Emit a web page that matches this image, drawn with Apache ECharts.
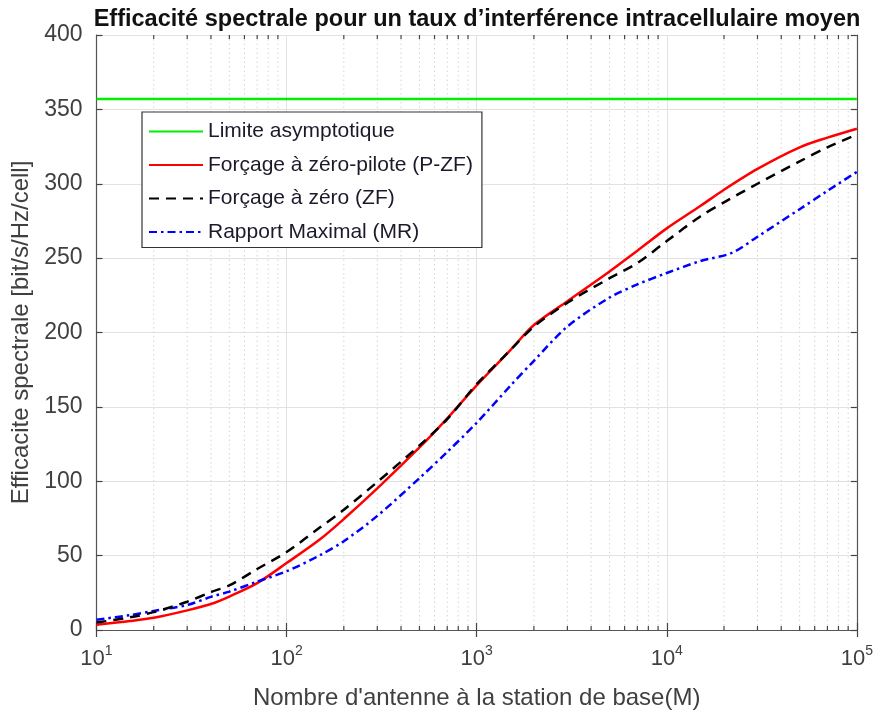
<!DOCTYPE html>
<html>
<head>
<meta charset="utf-8">
<script src="https://cdn.jsdelivr.net/npm/echarts@6/dist/echarts.min.js"></script>
<style>
html,body{margin:0;padding:0;background:#fff;}
#c{width:876px;height:715px;}
</style>
</head>
<body>
<div id="c"></div>
<script>
// Number of antennas (x, log scale)
const antennas = [10,15,20,30,40,50,70,100,150,200,300,500,700,1000,1500,2000,3000,5000,7000,10000,15000,20000,30000,50000,70000,100000];
// Spectral efficiency [bit/s/Hz/cell]
const pzf = [3.5,6,8.2,13.2,17.5,22.5,31.5,45,61,74.6,95.2,122.7,142.3,164.5,188,205,221,241,255,270,285,296,310,324.5,331,337];
const zf  = [5,8.5,12,19,25.5,30,41,52.4,69,80.8,99.5,124,141.8,165.3,188,204,220,236.5,246.7,261.5,278,287.5,300,315,324.5,333];
const antennasMR = [10,15,20,30,40,50,70,100,150,200,300,500,700,1000,1500,2000,3000,5000,7000,10000,15000,22000,30000,50000,70000,100000];
const mr  = [6.9,10,12.8,16.8,22.3,25.8,32.5,39.5,50.3,59.7,76.7,102.1,119.7,139.3,164,181,204,223.5,232.3,240,248,253.5,264.4,282.9,295.2,308];
const asymptote = 357;
const xRange = [10, 100000];
const minorX = [];
[10,100,1000,10000].forEach(d => { for (let k = 2; k <= 9; k++) minorX.push(d*k); });

const names = ['Limite asymptotique','Forçage à zéro-pilote (P-ZF)','Forçage à zéro (ZF)','Rapport Maximal (MR)'];
const FONT = 'Liberation Sans, Arial, sans-serif';
const tickColor = '#404040';

const chart = echarts.init(document.getElementById('c'), null, {renderer:'canvas'});

const commonX = {
  type:'log', logBase:10, min:xRange[0], max:xRange[1],
  axisLine:{show:true, lineStyle:{color:'#555', width:1.2}},
  axisTick:{show:true, inside:true, length:7, lineStyle:{color:'#444', width:1.2}},
  minorTick:{show:false}
};
const commonY = {
  type:'value', min:0, max:400, interval:50,
  axisLine:{show:true, lineStyle:{color:'#555', width:1.2}},
  axisTick:{show:true, inside:true, length:6, lineStyle:{color:'#444', width:1.2}}
};

const option = {
  backgroundColor:'#fff',
  animation:false,
  title:{
    text:'Efficacité spectrale pour un taux d\u2019interférence intracellulaire moyen',
    left:472, top:3, textAlign:'center',
    textStyle:{fontFamily:FONT, fontWeight:'bold', fontSize:23.5, color:'#111'}
  },
  grid:{left:96.5, right:17, top:35, bottom:79, containLabel:false},
  legend:{
    orient:'vertical', left:142, top:112,
    data:names,
    backgroundColor:'#fff', borderColor:'#333', borderWidth:1.2,
    padding:[9,9,5,6],
    itemWidth:54, itemHeight:20, itemGap:12.5, itemTextGap:6,
    itemStyle:{opacity:0},
    textStyle:{fontFamily:FONT, fontSize:21, color:'#1a1a2a', lineHeight:20}
  },
  xAxis:[
    Object.assign({}, commonX, {
      position:'bottom',
      name:'Nombre d\'antenne à la station de base(M)',
      nameLocation:'middle', nameGap:56,
      nameTextStyle:{fontFamily:FONT, fontSize:24, color:tickColor},
      axisLabel:{
        margin:14,
        formatter: v => '{b|10}{s|' + Math.round(Math.log10(v)) + '}',
        rich:{
          b:{fontFamily:FONT, fontSize:22, color:tickColor, lineHeight:26, verticalAlign:'bottom'},
          s:{fontFamily:FONT, fontSize:14, color:tickColor, lineHeight:26, verticalAlign:'top'}
        }
      },
      splitLine:{show:true, lineStyle:{color:'#e2e2e2', width:1}}
    }),
    Object.assign({}, commonX, {
      position:'top', axisLabel:{show:false}, splitLine:{show:false}
    })
  ],
  yAxis:[
    Object.assign({}, commonY, {
      position:'left',
      name:'Efficacite spectrale [bit/s/Hz/cell]',
      nameLocation:'middle', nameGap:56,
      nameTextStyle:{fontFamily:FONT, fontSize:24, color:tickColor},
      axisLabel:{margin:14, fontFamily:FONT, fontSize:23, color:tickColor},
      splitLine:{show:true, lineStyle:{color:'#e2e2e2', width:1}}
    }),
    Object.assign({}, commonY, {
      position:'right', axisLabel:{show:false}, splitLine:{show:false}
    })
  ],
  series:[
    {
      type:'custom', name:'minor', xAxisIndex:0, yAxisIndex:0, silent:true, z:1,
      data: minorX.map(v => [v]),
      encode:{x:0},
      renderItem:(params, api) => {
        const v = api.value(0);
        const b = api.coord([v, 0]);
        const t = api.coord([v, 400]);
        return {type:'group', children:[
          {type:'line', shape:{x1:b[0], y1:b[1], x2:t[0], y2:t[1]},
           style:{stroke:'#d4d4d4', lineWidth:1, lineDash:[1.5,3]}},
          {type:'line', shape:{x1:b[0], y1:b[1], x2:b[0], y2:b[1]-4},
           style:{stroke:'#444', lineWidth:1.2}},
          {type:'line', shape:{x1:t[0], y1:t[1], x2:t[0], y2:t[1]+4},
           style:{stroke:'#444', lineWidth:1.2}}
        ]};
      }
    },
    {
      name:names[0], type:'line', symbol:'none', z:3,
      data: xRange.map(x => [x, asymptote]),
      lineStyle:{color:'#00ee00', width:2.5}, itemStyle:{color:'#00ee00'}
    },
    {
      name:names[1], type:'line', symbol:'none', smooth:0.3, z:4,
      data: antennas.map((m,i) => [m, pzf[i]]),
      lineStyle:{color:'#ff0000', width:2.5}, itemStyle:{color:'#ff0000'}
    },
    {
      name:names[2], type:'line', symbol:'none', smooth:0.3, z:5,
      data: antennas.map((m,i) => [m, zf[i]]),
      lineStyle:{color:'#000000', width:2.5, type:[10,7]}, itemStyle:{color:'#000'}
    },
    {
      name:names[3], type:'line', symbol:'none', smooth:0.3, z:4,
      data: antennasMR.map((m,i) => [m, mr[i]]),
      lineStyle:{color:'#0000ff', width:2.5, type:[8,4,2.5,4]}, itemStyle:{color:'#0000ff'}
    }
  ]
};
chart.setOption(option);
</script>
</body>
</html>
